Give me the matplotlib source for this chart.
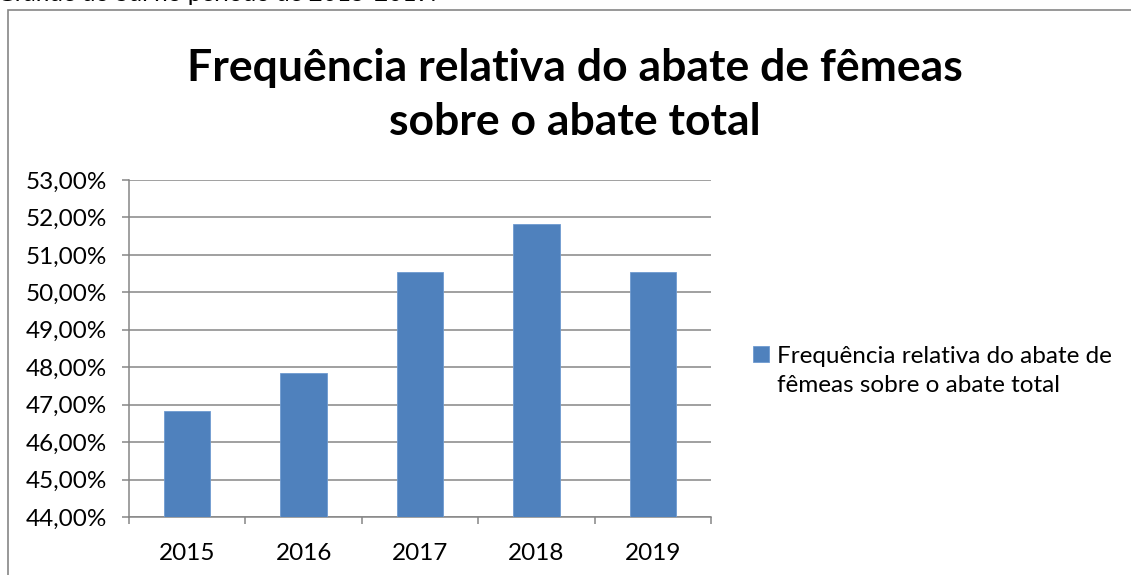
import matplotlib.pyplot as plt
from matplotlib.patches import Rectangle
from matplotlib.ticker import FuncFormatter, FixedLocator

# dados
anos = ['2015', '2016', '2017', '2018', '2019']
freq_femeas = [46.82, 47.84, 50.54, 51.82, 50.53]
nome_serie = 'Frequência relativa do abate de\nfêmeas sobre o abate total'
titulo = 'Frequência relativa do abate de fêmeas\nsobre o abate total'
texto_topo = 'Grande do Sul no período de 2015-2019.'

plt.rcParams['font.family'] = ['Lato', 'DejaVu Sans']
cinza = '#868686'
azul = '#4F81BD'
fs = 17.5

fig = plt.figure(figsize=(11.31, 5.75), dpi=100)
ax = fig.add_axes([129 / 1131, 1 - 517 / 575, (711 - 129) / 1131, (517 - 180) / 575])

x = list(range(len(anos)))
ax.bar(x, freq_femeas, width=0.4, color=azul, edgecolor='#6f9bd1', linewidth=0.6,
       label=nome_serie, zorder=3)

ax.set_xlim(-0.5, len(anos) - 0.5)
ax.set_ylim(44, 53)
ax.set_yticks(range(44, 54))
ax.yaxis.set_major_formatter(FuncFormatter(lambda v, p: f'{v:.2f}%'.replace('.', ',')))
ax.grid(axis='y', color=cinza, linewidth=1.1, zorder=0)

# ticks do eixo x nas divisas das categorias, rotulos no centro
ax.xaxis.set_major_locator(FixedLocator([i - 0.5 for i in range(len(anos) + 1)]))
ax.xaxis.set_minor_locator(FixedLocator(x))
ax.set_xticklabels([])
ax.set_xticklabels(anos, minor=True)
ax.tick_params(axis='x', which='major', length=5, width=1.1, color=cinza)
ax.tick_params(axis='x', which='minor', length=0, pad=19, labelsize=fs)
ax.tick_params(axis='y', length=5, width=1.1, color=cinza, labelsize=fs, pad=11)

for s in ['top', 'right']:
    ax.spines[s].set_visible(False)
for s in ['left', 'bottom']:
    ax.spines[s].set_color(cinza)
    ax.spines[s].set_linewidth(1.1)

fig.text(575 / 1131, 1 - 95 / 575, titulo, ha='center', va='center', fontsize=32,
         fontweight='bold', linespacing=1.42)

leg = ax.legend(loc='upper left', bbox_to_anchor=(741 / 1131, 1 - 334 / 575),
                bbox_transform=fig.transFigure, frameon=False, fontsize=fs,
                handlelength=0.65, handleheight=0.65, handletextpad=0.35, borderpad=0,
                labelspacing=0.3)
for t in leg.get_texts():
    t.set_linespacing(1.45)
# quadrado alinhado com a primeira linha, como no Excel
for col in leg._legend_handle_box.get_children():
    for item in col.get_children():
        item.align = 'top'

# moldura do grafico (cortada na imagem)
fig.patches.append(Rectangle((8 / 1131, -0.1), 1.2, 1.1 - 10 / 575, transform=fig.transFigure,
                             fill=False, edgecolor=cinza, linewidth=1.2))
fig.text(-0.003, 1 - 1 / 575, texto_topo, ha='left', va='baseline', fontsize=fs)

fig.savefig('out.png', dpi=100)
